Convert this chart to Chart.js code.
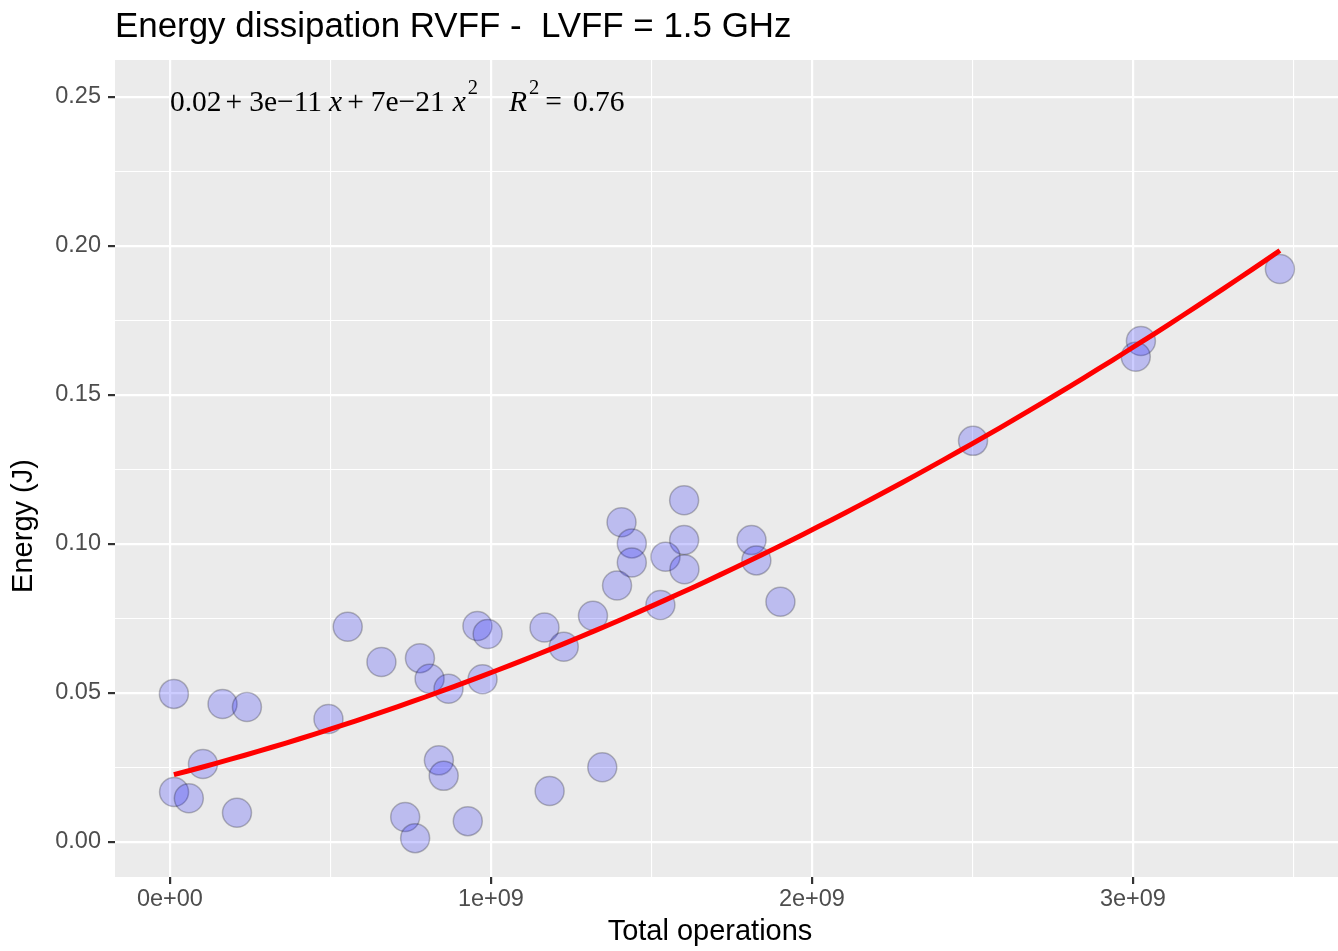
<!DOCTYPE html>
<html>
<head>
<meta charset="utf-8">
<script src="https://cdn.jsdelivr.net/npm/chart.js@4/dist/chart.umd.min.js"></script>
<style>
  html, body { margin: 0; padding: 0; background: #fff; }
  canvas { display: block; }
</style>
</head>
<body>
<canvas id="energyChart" width="1338" height="951"></canvas>
<script>
// data
const totalOps = [
  0.0125e9, 0.164e9, 0.240e9, 0.103e9, 0.013e9, 0.059e9, 0.209e9, 0.494e9,
  0.554e9, 0.659e9, 0.779e9, 0.809e9, 0.868e9, 0.958e9, 0.990e9, 0.974e9,
  0.838e9, 0.853e9, 0.733e9, 0.764e9, 0.928e9, 1.602e9, 1.407e9, 1.439e9,
  1.602e9, 1.812e9, 1.439e9, 1.544e9, 1.603e9, 1.827e9, 1.393e9, 1.902e9,
  1.528e9, 1.318e9, 1.167e9, 1.227e9, 1.347e9, 1.183e9, 2.502e9, 3.025e9,
  3.009e9, 3.458e9
];
const energy = [
  0.0497, 0.0463, 0.0453, 0.0262, 0.0168, 0.0147, 0.0098, 0.0413,
  0.0722, 0.0604, 0.0617, 0.0548, 0.0514, 0.0725, 0.0698, 0.0546,
  0.0274, 0.0222, 0.0084, 0.0013, 0.0070, 0.1147, 0.1073, 0.1002,
  0.1013, 0.1013, 0.0938, 0.0957, 0.0915, 0.0945, 0.0861, 0.0806,
  0.0795, 0.0759, 0.0720, 0.0655, 0.0251, 0.0171, 0.1346, 0.1681,
  0.1628, 0.1923
];

const xMajorTicks = [0, 1e9, 2e9, 3e9];
const xTickLabels = ['0e+00', '1e+09', '2e+09', '3e+09'];
const xMinorTicks = [0.5e9, 1.5e9, 2.5e9, 3.5e9];
const yMajorTicks = [0, 0.05, 0.10, 0.15, 0.20, 0.25];
const yTickLabels = ['0.00', '0.05', '0.10', '0.15', '0.20', '0.25'];
const yMinorTicks = [0.025, 0.075, 0.125, 0.175, 0.225];

const titleText = 'Energy dissipation RVFF -  LVFF = 1.5 GHz';
const xTitle = 'Total operations';
const yTitle = 'Energy (J)';

// quadratic least squares fit (like geom_smooth(method = lm, y ~ poly(x, 2)))
function quadFit(xs, ys) {
  let s = [0, 0, 0, 0, 0], t = [0, 0, 0];
  for (let i = 0; i < xs.length; i++) {
    const x = xs[i] / 1e9;
    for (let k = 0; k < 5; k++) s[k] += Math.pow(x, k);
    for (let k = 0; k < 3; k++) t[k] += ys[i] * Math.pow(x, k);
  }
  const m = [[s[0], s[1], s[2], t[0]], [s[1], s[2], s[3], t[1]], [s[2], s[3], s[4], t[2]]];
  for (let c = 0; c < 3; c++) {
    for (let r = c + 1; r < 3; r++) {
      const f = m[r][c] / m[c][c];
      for (let k = c; k < 4; k++) m[r][k] -= f * m[c][k];
    }
  }
  const coef = [0, 0, 0];
  for (let r = 2; r >= 0; r--) {
    let v = m[r][3];
    for (let k = r + 1; k < 3; k++) v -= m[r][k] * coef[k];
    coef[r] = v / m[r][r];
  }
  return coef;
}

const coef = quadFit(totalOps, energy);
const xMin = Math.min(...totalOps), xMax = Math.max(...totalOps);
const fitLine = [];
for (let i = 0; i < 80; i++) {
  const x = xMin + (xMax - xMin) * i / 79;
  const u = x / 1e9;
  fitLine.push({ x: x, y: coef[0] + coef[1] * u + coef[2] * u * u });
}

const points = totalOps.map((x, i) => ({ x: x, y: energy[i] }));

function isMajor(list, v) {
  return list.some(m => Math.abs(m - v) < 1e-9 * Math.max(1, Math.abs(m)));
}

// equation label pieces: text, style (n = normal, i = italic, s = superscript), gap after
const eqRuns = [
  ['0.02', 'n', 4], ['+', 'n', 7], ['3e\u221211', 'n', 7], ['x', 'i', 5], ['+', 'n', 7],
  ['7e\u221221', 'n', 8], ['x', 'i', 2], ['2', 's', 31],
  ['R', 'i', 2], ['2', 's', 6], ['=', 'n', 11], ['0.76', 'n', 0]
];

// grey panel, titles, equation label
const ggPlugin = {
  id: 'gg',
  beforeDraw(chart) {
    const { ctx, chartArea } = chart;
    ctx.save();
    ctx.fillStyle = '#EBEBEB';
    ctx.fillRect(chartArea.left, chartArea.top, chartArea.right - chartArea.left, chartArea.bottom - chartArea.top);
    ctx.restore();
  },
  afterDraw(chart) {
    const { ctx } = chart;
    const xs = chart.scales.x, ys = chart.scales.y;
    ctx.save();
    ctx.fillStyle = '#000';
    ctx.textBaseline = 'alphabetic';
    ctx.textAlign = 'left';
    ctx.font = '34.9px "Liberation Sans", Arial, sans-serif';
    ctx.fillText(titleText, 115, 37);

    ctx.font = '29px "Liberation Sans", Arial, sans-serif';
    ctx.textAlign = 'center';
    ctx.textBaseline = 'middle';
    ctx.fillText(xTitle, 710, 932);
    ctx.translate(24, 526);
    ctx.rotate(-Math.PI / 2);
    ctx.fillText(yTitle, 0, 0);
    ctx.restore();

    // equation
    ctx.save();
    ctx.fillStyle = '#000';
    ctx.textBaseline = 'alphabetic';
    ctx.textAlign = 'left';
    const serif = '"Liberation Serif", "Times New Roman", serif';
    let px = xs.getPixelForValue(0);
    const base = ys.getPixelForValue(0.25) + 14.5;
    eqRuns.forEach(([txt, kind, gap]) => {
      let y = base;
      if (kind === 'i') ctx.font = 'italic 29.5px ' + serif;
      else if (kind === 's') { ctx.font = '20.5px ' + serif; y = base - 17; }
      else ctx.font = '29.5px ' + serif;
      ctx.fillText(txt, px, y);
      px += ctx.measureText(txt).width + gap;
    });
    ctx.restore();
  }
};

const ctx = document.getElementById('energyChart').getContext('2d');
const energyChart = new Chart(ctx, {
  type: 'scatter',
  data: {
    datasets: [
      {
        label: 'fit',
        data: fitLine,
        showLine: true,
        borderColor: '#FF0000',
        borderWidth: 5,
        pointRadius: 0,
        tension: 0,
        fill: false,
        order: 0
      },
      {
        label: 'obs',
        data: points,
        pointRadius: 14.5,
        pointHoverRadius: 14.5,
        backgroundColor: 'rgba(0, 0, 255, 0.2)',
        borderColor: 'rgba(0, 0, 0, 0.24)',
        borderWidth: 1.5,
        order: 1
      }
    ]
  },
  options: {
    responsive: false,
    animation: false,
    devicePixelRatio: 1,
    layout: { autoPadding: false, padding: { top: 60, right: 0, bottom: 0, left: 0 } },
    plugins: {
      legend: { display: false },
      tooltip: { enabled: false },
      title: { display: false }
    },
    scales: {
      x: {
        type: 'linear',
        min: -0.171e9,
        max: 3.639e9,
        afterBuildTicks(scale) {
          scale.ticks = [...xMajorTicks, ...xMinorTicks].sort((a, b) => a - b).map(v => ({ value: v }));
        },
        afterFit(scale) {
          scale.height = 74;
          scale.paddingLeft = 0;
          scale.paddingRight = 0;
        },
        border: { display: false },
        grid: {
          color: '#FFFFFF',
          lineWidth: c => isMajor(xMajorTicks, c.tick.value) ? 2.2 : 1.1,
          tickColor: c => isMajor(xMajorTicks, c.tick.value) ? '#333333' : 'rgba(0,0,0,0)',
          tickLength: 7,
          tickWidth: 2.2
        },
        ticks: {
          autoSkip: false,
          maxRotation: 0,
          padding: 1,
          color: '#4D4D4D',
          font: { family: '"Liberation Sans", Arial, sans-serif', size: 23.5 },
          callback: v => {
            const i = xMajorTicks.findIndex(m => Math.abs(m - v) < 1);
            return i >= 0 ? xTickLabels[i] : '';
          }
        }
      },
      y: {
        type: 'linear',
        min: -0.01174,
        max: 0.2624,
        afterBuildTicks(scale) {
          scale.ticks = [...yMajorTicks, ...yMinorTicks].sort((a, b) => a - b).map(v => ({ value: v }));
        },
        afterFit(scale) {
          scale.width = 115;
          scale.paddingTop = 0;
          scale.paddingBottom = 0;
        },
        border: { display: false },
        grid: {
          color: '#FFFFFF',
          lineWidth: c => isMajor(yMajorTicks, c.tick.value) ? 2.2 : 1.1,
          tickColor: c => isMajor(yMajorTicks, c.tick.value) ? '#333333' : 'rgba(0,0,0,0)',
          tickLength: 7,
          tickWidth: 2.2
        },
        ticks: {
          autoSkip: false,
          padding: 7,
          color: '#4D4D4D',
          font: { family: '"Liberation Sans", Arial, sans-serif', size: 23.5 },
          callback: v => {
            const i = yMajorTicks.findIndex(m => Math.abs(m - v) < 1e-9);
            return i >= 0 ? yTickLabels[i] : '';
          }
        }
      }
    }
  },
  plugins: [ggPlugin]
});
</script>
</body>
</html>
